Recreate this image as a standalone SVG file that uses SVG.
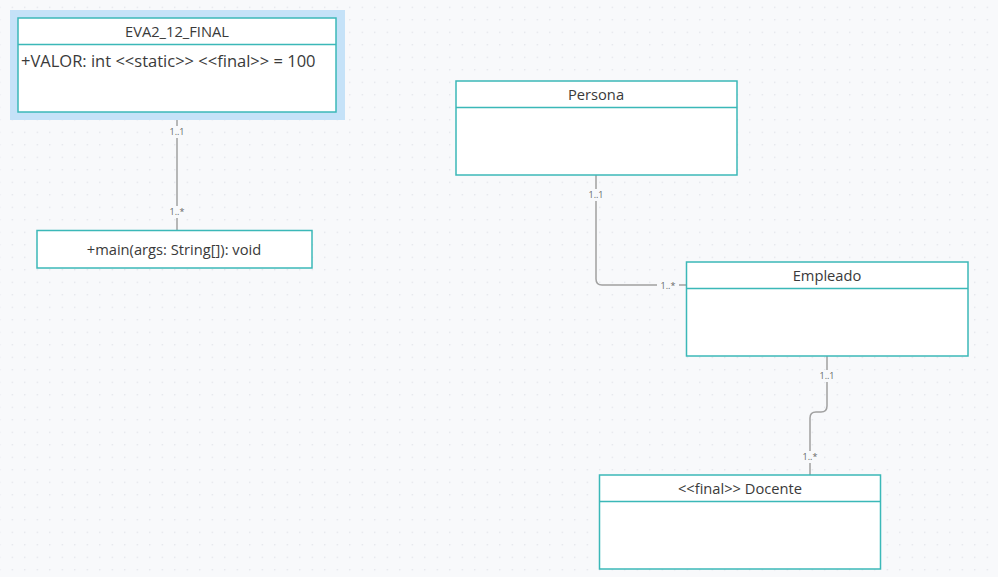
<svg xmlns="http://www.w3.org/2000/svg" width="998" height="577" viewBox="0 0 998 577">
<defs>
<pattern id="grid" x="-0.8" y="6.7" width="12.5" height="12.5" patternUnits="userSpaceOnUse">
<rect x="0" y="0" width="1.2" height="1.2" fill="#dcdfe5"/>
</pattern>
<style>
.box{fill:#ffffff;stroke:#3bb8b8;stroke-width:1.5}
.sep{stroke:#3bb8b8;stroke-width:1.5}
.title{font-family:"Open Sans","Liberation Sans",sans-serif;font-size:14.7px;fill:#3a3a3a;text-anchor:middle}
.attr{font-family:"Open Sans","Liberation Sans",sans-serif;font-size:16.5px;fill:#3a3a3a}
.conn{fill:none;stroke:#a0a0a0;stroke-width:1.5}
.lbl{font-family:"Open Sans","Liberation Sans",sans-serif;font-size:9px;fill:#666666;text-anchor:middle}
.lblbg{fill:#f8f9fb}
</style>
</defs>
<rect width="998" height="577" fill="#f8f9fb"/>
<rect width="998" height="577" fill="url(#grid)"/>

<g id="connectors">
<path class="conn" d="M177 112 V230"/>
<path class="conn" d="M596 175 V279 Q596 285 602 285 H686"/>
<path class="conn" d="M827 356 V406 Q827 412 821 412 H816 Q810 412 810 418 V475"/>
<rect class="lblbg" x="166" y="126" width="22" height="12"/>
<text class="lbl" x="177" y="135">1..1</text>
<rect class="lblbg" x="166" y="206" width="22" height="12"/>
<text class="lbl" x="177" y="215">1..*</text>
<rect class="lblbg" x="585" y="189" width="22" height="12"/>
<text class="lbl" x="596" y="198">1..1</text>
<rect class="lblbg" x="657" y="280" width="22" height="12"/>
<text class="lbl" x="668" y="289">1..*</text>
<rect class="lblbg" x="816" y="370" width="22" height="12"/>
<text class="lbl" x="827" y="379">1..1</text>
<rect class="lblbg" x="799" y="451" width="22" height="12"/>
<text class="lbl" x="810" y="460">1..*</text>
</g>

<g id="eva2">
<rect x="10" y="10" width="335" height="110" fill="#c5e2f8"/>
<rect class="box" x="18" y="18" width="318" height="94"/>
<line class="sep" x1="18" y1="44.5" x2="336" y2="44.5"/>
<text class="title" x="177" y="37">EVA2_12_FINAL</text>
<text class="attr" x="21" y="67">+VALOR: int &lt;&lt;static&gt;&gt; &lt;&lt;final&gt;&gt; = 100</text>
</g>

<g id="main">
<rect class="box" x="37" y="230.5" width="275" height="37.5"/>
<text class="title" x="174" y="255">+main(args: String[]): void</text>
</g>

<g id="persona">
<rect class="box" x="456" y="81" width="281" height="94"/>
<line class="sep" x1="456" y1="107.5" x2="737" y2="107.5"/>
<text class="title" x="596" y="100">Persona</text>
</g>

<g id="empleado">
<rect class="box" x="686.5" y="262" width="281.5" height="94"/>
<line class="sep" x1="686.5" y1="288.5" x2="968" y2="288.5"/>
<text class="title" x="827" y="281">Empleado</text>
</g>

<g id="docente">
<rect class="box" x="599.5" y="475" width="281" height="94"/>
<line class="sep" x1="599.5" y1="501.5" x2="880.5" y2="501.5"/>
<text class="title" x="740" y="494">&lt;&lt;final&gt;&gt; Docente</text>
</g>
</svg>
